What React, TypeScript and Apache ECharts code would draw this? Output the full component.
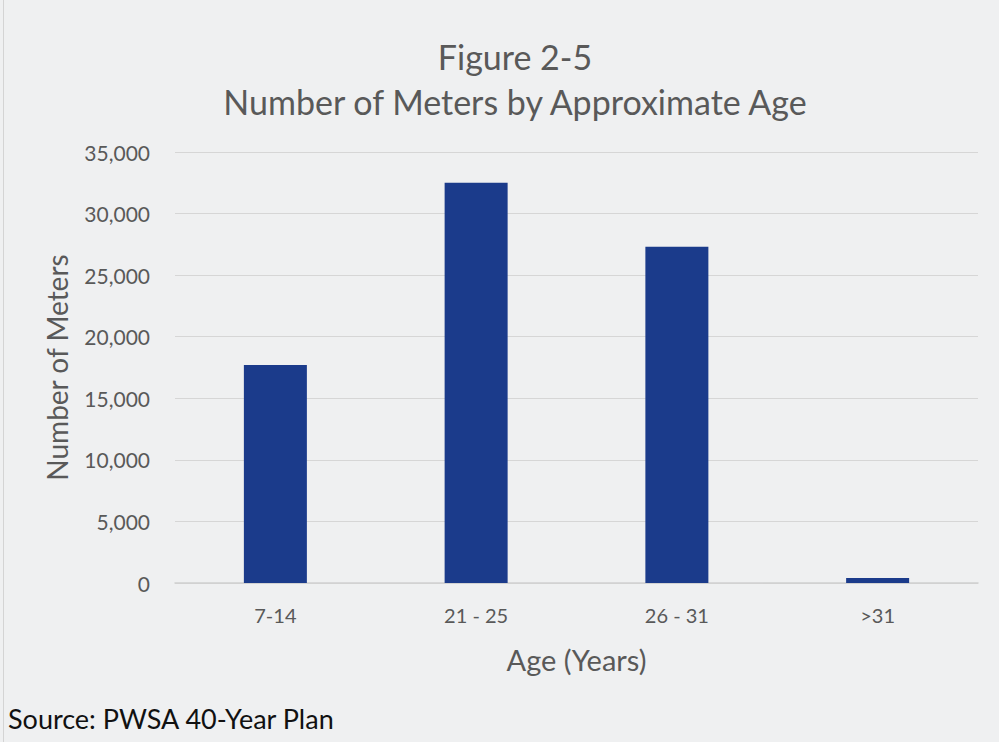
import React, { useEffect, useRef } from "react";
import * as echarts from "echarts";

const categories = ["7-14", "21 - 25", "26 - 31", ">31"];
const meterCounts = [17700, 32500, 27300, 400];
const titleLines = ["Figure 2-5", "Number of Meters by Approximate Age"];
const yAxisName = "Number of Meters";
const xAxisName = "Age (Years)";
const sourceNote = "Source: PWSA 40-Year Plan";

const FONT = "Lato, 'Open Sans', sans-serif";
const TEXT = "#595959";

export default function App() {
  const ref = useRef<HTMLDivElement>(null);
  useEffect(() => {
    if (!ref.current) return;
    const chart = echarts.init(ref.current, null, { renderer: "svg" });
    chart.setOption({
      animation: false,
      backgroundColor: "#eff0f1",
      textStyle: { fontFamily: FONT },
      title: {
        text: titleLines.join("\n"),
        left: 510,
        textAlign: "center",
        top: 29,
        padding: 5,
        textStyle: { fontFamily: FONT, fontSize: 34, fontWeight: "normal", color: TEXT, lineHeight: 45 },
      },
      grid: { left: 175, right: 21, top: 152, bottom: 159, containLabel: false },
      xAxis: {
        type: "category",
        data: categories,
        name: xAxisName,
        nameLocation: "middle",
        nameGap: 62,
        nameTextStyle: { fontFamily: FONT, fontSize: 29, color: TEXT },
        axisLine: { lineStyle: { color: "#d0d0d0", width: 1.5 } },
        axisTick: { show: false },
        axisLabel: { fontFamily: FONT, fontSize: 20, color: TEXT, margin: 22 },
      },
      yAxis: {
        type: "value",
        min: 0,
        max: 35000,
        interval: 5000,
        name: yAxisName,
        nameLocation: "middle",
        nameGap: 104,
        nameRotate: 90,
        nameTextStyle: { fontFamily: FONT, fontSize: 28, color: TEXT },
        axisLine: { show: false },
        axisTick: { show: false },
        splitLine: { lineStyle: { color: "#d6d6d6", width: 1.2 } },
        axisLabel: {
          fontFamily: FONT,
          fontSize: 21,
          color: TEXT,
          margin: 25,
          formatter: (v: number) => v.toLocaleString("en-US"),
        },
      },
      series: [
        {
          type: "bar",
          data: meterCounts,
          barWidth: 63,
          itemStyle: { color: "#1b3b8b" },
        },
      ],
      graphic: [
        {
          type: "rect",
          shape: { x: 3, y: 0, width: 1, height: 742 },
          style: { fill: "#d4d4d4" },
          silent: true,
        },
        {
          type: "text",
          left: 8,
          top: 705,
          style: { text: sourceNote, fontFamily: FONT, fontSize: 27, fill: "#111111" },
        },
      ],
    });
    return () => chart.dispose();
  }, []);
  return (
    <div
      ref={ref}
      style={{ position: "fixed", left: 0, top: 0, width: 999, height: 742 }}
    />
  );
}
